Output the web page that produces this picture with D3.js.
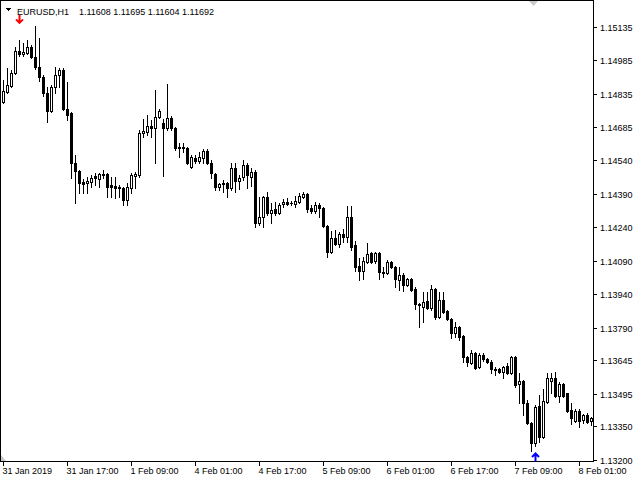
<!DOCTYPE html>
<html>
<head>
<meta charset="utf-8">
<script src="https://cdn.jsdelivr.net/npm/d3@7"></script>
<style>
html,body{margin:0;padding:0;background:#fff;}
svg{display:block;}
text{font-family:"Liberation Sans",Arial,sans-serif;font-size:9px;fill:#000;}
</style>
</head>
<body>
<svg id="chart" width="640" height="480"></svg>
<script>
const symbolTitle = "EURUSD,H1";
const titleValues = "1.11608 1.11695 1.11604 1.11692";

const open = [
1.14799,1.14843,1.14870,1.14928,1.15027,1.15013,1.15018,1.15045,1.15000,1.14955,
1.14910,1.14839,1.14759,1.14866,1.14919,1.14942,1.14768,1.14750,1.14526,1.14491,
1.14442,1.14437,1.14442,1.14468,1.14455,1.14473,1.14477,1.14428,1.14424,1.14419,
1.14415,1.14361,1.14415,1.14468,1.14473,1.14660,1.14665,1.14692,1.14683,1.14732,
1.14705,1.14683,1.14727,1.14683,1.14598,1.14598,1.14593,1.14509,1.14549,1.14535,
1.14549,1.14580,1.14526,1.14477,1.14419,1.14437,1.14437,1.14415,1.14504,1.14446,
1.14464,1.14517,1.14464,1.14486,1.14258,1.14285,1.14375,1.14303,1.14321,1.14303,
1.14343,1.14352,1.14348,1.14343,1.14352,1.14375,1.14388,1.14325,1.14312,1.14339,
1.14325,1.14245,1.14129,1.14191,1.14165,1.14209,1.14196,1.14285,1.14160,1.14066,
1.14044,1.14084,1.14124,1.14089,1.14124,1.14040,1.14035,1.14084,1.14062,1.14004,
1.14026,1.13982,1.14008,1.13964,1.13897,1.13883,1.13910,1.13879,1.13964,1.13839,
1.13915,1.13865,1.13830,1.13767,1.13794,1.13754,1.13660,1.13633,1.13678,1.13615,
1.13669,1.13651,1.13638,1.13606,1.13606,1.13593,1.13620,1.13589,1.13660,1.13539,
1.13553,1.13455,1.13365,1.13276,1.13441,1.13303,1.13459,1.13553,1.13566,1.13486,
1.13539,1.13499,1.13423,1.13374,1.13419,1.13379,1.13401,1.13374];

const high = [
1.14897,1.14951,1.14942,1.15045,1.15076,1.15062,1.15076,1.15053,1.15138,1.15085,
1.14919,1.14866,1.14875,1.14955,1.14951,1.14951,1.14888,1.14754,1.14562,1.14495,
1.14455,1.14464,1.14473,1.14482,1.14482,1.14495,1.14482,1.14464,1.14464,1.14428,
1.14419,1.14437,1.14482,1.14486,1.14674,1.14723,1.14741,1.14718,1.14852,1.14768,
1.14723,1.14879,1.14736,1.14687,1.14616,1.14616,1.14598,1.14562,1.14562,1.14576,
1.14589,1.14589,1.14540,1.14482,1.14437,1.14450,1.14442,1.14526,1.14526,1.14473,
1.14540,1.14526,1.14504,1.14495,1.14375,1.14379,1.14397,1.14348,1.14352,1.14348,
1.14366,1.14370,1.14357,1.14379,1.14392,1.14397,1.14392,1.14339,1.14352,1.14348,
1.14330,1.14250,1.14223,1.14227,1.14218,1.14232,1.14334,1.14334,1.14178,1.14102,
1.14107,1.14169,1.14129,1.14129,1.14129,1.14062,1.14093,1.14089,1.14066,1.14062,
1.14035,1.14013,1.14013,1.13973,1.13901,1.13950,1.13950,1.13982,1.13968,1.13950,
1.13950,1.13870,1.13834,1.13816,1.13798,1.13758,1.13664,1.13691,1.13682,1.13678,
1.13678,1.13656,1.13647,1.13615,1.13611,1.13620,1.13633,1.13664,1.13664,1.13589,
1.13557,1.13468,1.13370,1.13446,1.13490,1.13517,1.13589,1.13589,1.13593,1.13548,
1.13544,1.13499,1.13455,1.13428,1.13428,1.13405,1.13410,1.13392];

const low = [
1.14794,1.14839,1.14866,1.14924,1.15004,1.15004,1.15013,1.14995,1.14946,1.14893,
1.14826,1.14710,1.14754,1.14839,1.14866,1.14763,1.14718,1.14459,1.14348,1.14392,
1.14392,1.14392,1.14419,1.14428,1.14419,1.14459,1.14375,1.14375,1.14370,1.14375,
1.14339,1.14339,1.14392,1.14415,1.14464,1.14643,1.14651,1.14643,1.14526,1.14727,
1.14468,1.14674,1.14674,1.14584,1.14553,1.14576,1.14522,1.14504,1.14526,1.14526,
1.14526,1.14522,1.14459,1.14406,1.14406,1.14397,1.14375,1.14406,1.14397,1.14410,
1.14450,1.14415,1.14424,1.14241,1.14250,1.14241,1.14294,1.14258,1.14294,1.14299,
1.14330,1.14339,1.14339,1.14330,1.14348,1.14370,1.14308,1.14303,1.14303,1.14285,
1.14241,1.14107,1.14124,1.14160,1.14151,1.14174,1.14174,1.14138,1.14044,1.14004,
1.14008,1.14080,1.14080,1.14080,1.14008,1.14017,1.14031,1.14057,1.13973,1.13959,
1.13955,1.13977,1.13955,1.13874,1.13794,1.13816,1.13874,1.13870,1.13830,1.13834,
1.13857,1.13825,1.13745,1.13749,1.13736,1.13638,1.13620,1.13629,1.13606,1.13611,
1.13642,1.13633,1.13589,1.13580,1.13589,1.13566,1.13584,1.13584,1.13526,1.13455,
1.13401,1.13361,1.13240,1.13263,1.13280,1.13298,1.13455,1.13499,1.13481,1.13459,
1.13481,1.13414,1.13361,1.13370,1.13347,1.13365,1.13365,1.13356];

const close = [
1.14848,1.14875,1.14928,1.15027,1.15013,1.15022,1.15045,1.15000,1.14955,1.14910,
1.14839,1.14759,1.14866,1.14919,1.14942,1.14768,1.14741,1.14526,1.14491,1.14437,
1.14433,1.14446,1.14459,1.14459,1.14477,1.14475,1.14419,1.14419,1.14415,1.14415,
1.14361,1.14419,1.14473,1.14477,1.14660,1.14669,1.14692,1.14683,1.14732,1.14759,
1.14683,1.14727,1.14683,1.14593,1.14593,1.14593,1.14526,1.14553,1.14535,1.14553,
1.14580,1.14526,1.14482,1.14419,1.14433,1.14433,1.14415,1.14504,1.14446,1.14459,
1.14517,1.14473,1.14486,1.14258,1.14285,1.14375,1.14303,1.14317,1.14303,1.14339,
1.14352,1.14343,1.14347,1.14357,1.14379,1.14388,1.14321,1.14312,1.14339,1.14325,
1.14245,1.14129,1.14191,1.14165,1.14209,1.14196,1.14285,1.14151,1.14062,1.14044,
1.14089,1.14120,1.14084,1.14124,1.14040,1.14037,1.14084,1.14062,1.14008,1.14026,
1.13982,1.14008,1.13959,1.13897,1.13892,1.13906,1.13879,1.13964,1.13839,1.13915,
1.13861,1.13830,1.13767,1.13794,1.13749,1.13660,1.13638,1.13678,1.13611,1.13669,
1.13651,1.13638,1.13606,1.13602,1.13593,1.13615,1.13589,1.13660,1.13535,1.13553,
1.13455,1.13365,1.13276,1.13437,1.13303,1.13463,1.13566,1.13566,1.13486,1.13539,
1.13486,1.13419,1.13388,1.13419,1.13374,1.13401,1.13370,1.13388];

const timeLabelIndex = [0,16,32,48,64,80,96,112,128,144];
const timeLabels = ["31 Jan 2019","31 Jan 17:00","1 Feb 09:00","4 Feb 01:00","4 Feb 17:00",
                    "5 Feb 09:00","6 Feb 01:00","6 Feb 17:00","7 Feb 09:00","8 Feb 01:00"];
const priceTicks = [1.13200,1.13350,1.13495,1.13645,1.13790,1.13940,1.14090,1.14240,
                    1.14390,1.14540,1.14685,1.14835,1.14985,1.15135];
const signalIndex = [4, 133];
const signalPrice = [1.15152, 1.13229];
const signalDir = ["down", "up"];

const svg = d3.select("#chart");
const W = 640, H = 480;
const plotRight = 593.5, plotBottom = 461.5;

const x = d3.scaleLinear().domain([0, open.length - 1]).range([3.5, 591.5]);
const y = d3.scaleLinear().domain([1.13200, 1.15135]).range([460, 26.7]);

svg.append("rect").attr("width", W).attr("height", H).attr("fill", "#fff");

const candles = open.map((o, i) => ({i, o, h: high[i], l: low[i], c: close[i]}));

const g = svg.append("g").attr("shape-rendering", "crispEdges");

// wicks
g.selectAll("line.wick").data(candles).join("line")
  .attr("class", "wick")
  .attr("x1", d => x(d.i)).attr("x2", d => x(d.i))
  .attr("y1", d => Math.round(y(d.h))).attr("y2", d => Math.round(y(d.l)) + 1)
  .attr("stroke", "#000").attr("stroke-width", 1);

// bodies (outer)
function bodyTop(d){ return Math.round(y(Math.max(d.o, d.c))); }
function bodyBot(d){ return Math.round(y(Math.min(d.o, d.c))); }
g.selectAll("rect.body").data(candles).join("rect")
  .attr("class", "body")
  .attr("x", d => x(d.i) - 1.5)
  .attr("width", 3)
  .attr("y", d => bodyTop(d))
  .attr("height", d => Math.max(1, bodyBot(d) - bodyTop(d) + 1))
  .attr("fill", "#000");

// hollow interior for bullish candles
g.selectAll("rect.hollow").data(candles.filter(d => d.c > d.o && bodyBot(d) - bodyTop(d) >= 2)).join("rect")
  .attr("class", "hollow")
  .attr("x", d => x(d.i) - 0.5)
  .attr("width", 1)
  .attr("y", d => bodyTop(d) + 1)
  .attr("height", d => bodyBot(d) - bodyTop(d) - 1)
  .attr("fill", "#fff");

// frame
svg.append("rect").attr("x", 0.5).attr("y", 0.5)
  .attr("width", plotRight - 0.5).attr("height", plotBottom - 0.5)
  .attr("fill", "none").attr("stroke", "#000").attr("shape-rendering", "crispEdges");

// price axis
const yAxisG = svg.append("g").attr("shape-rendering", "crispEdges");
yAxisG.selectAll("line").data(priceTicks).join("line")
  .attr("x1", plotRight).attr("x2", plotRight + 3.5)
  .attr("y1", d => Math.round(y(d)) + 0.5).attr("y2", d => Math.round(y(d)) + 0.5)
  .attr("stroke", "#000");
svg.append("g").selectAll("text").data(priceTicks).join("text")
  .attr("x", 600).attr("y", d => Math.round(y(d)) + 3.5)
  .text(d => d.toFixed(5));

// time axis
const xAxisG = svg.append("g").attr("shape-rendering", "crispEdges");
xAxisG.selectAll("line").data(timeLabelIndex).join("line")
  .attr("x1", d => x(d)).attr("x2", d => x(d))
  .attr("y1", plotBottom).attr("y2", plotBottom + 4)
  .attr("stroke", "#000");
svg.append("g").selectAll("text").data(timeLabelIndex).join("text")
  .attr("x", d => x(d) - 1).attr("y", 474)
  .text((d, k) => timeLabels[k]);

// chart shift markers
svg.append("path").attr("d", "M529,1L538,1L533.5,6Z").attr("fill", "#c8c8c8");
svg.append("path").attr("d", "M1,455L1,461L6,461Z").attr("fill", "#c8c8c8");

// title
svg.append("path").attr("d", "M5,8L11,8L8,11Z").attr("fill", "#000").attr("shape-rendering", "crispEdges");
svg.append("text").attr("x", 17).attr("y", 15).text(symbolTitle);
svg.append("text").attr("x", 79).attr("y", 15).text(titleValues);

// signal arrows
signalIndex.forEach((idx, k) => {
  const cx = x(idx);
  const ty = y(signalPrice[k]);
  const dir = signalDir[k] === "down" ? -1 : 1; // shaft direction relative to tip
  const color = signalDir[k] === "down" ? "#ff0000" : "#0000ff";
  const shaftEnd = ty + dir * 8;
  const headY = ty + dir * 3.5;
  svg.append("path")
    .attr("d", `M${cx},${ty}L${cx},${shaftEnd}M${cx - 3.5},${headY}L${cx},${ty}L${cx + 3.5},${headY}`)
    .attr("fill", "none").attr("stroke", color).attr("stroke-width", 2)
    .attr("stroke-linejoin", "miter");
});
</script>
</body>
</html>
